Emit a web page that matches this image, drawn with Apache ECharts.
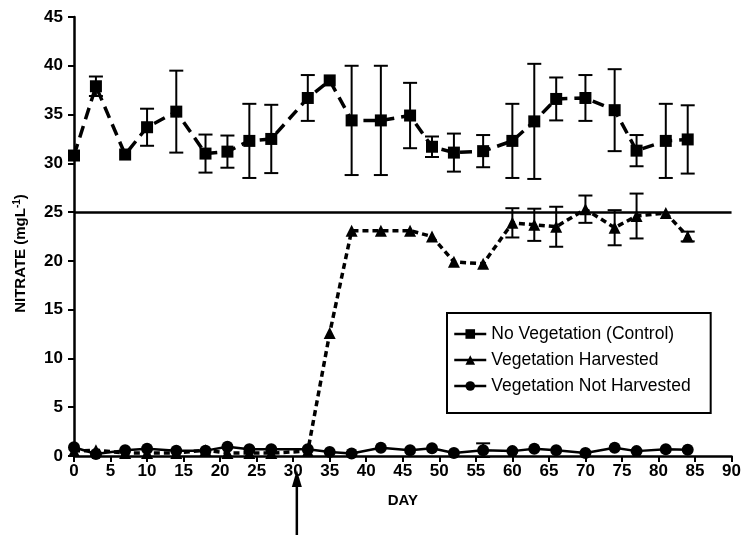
<!DOCTYPE html>
<html>
<head>
<meta charset="utf-8">
<script src="https://cdn.jsdelivr.net/npm/echarts@6/dist/echarts.min.js"></script>
<style>html,body{margin:0;padding:0;background:#fff}#c{width:744px;height:535px}</style>
</head>
<body>
<div id="c"></div>
<script>
var days = [0,3,7,10,14,18,21,24,27,32,35,38,42,46,49,52,56,60,63,66,70,74,77,81,84];
var control = [30.8,37.9,30.9,33.7,35.3,31.0,31.2,32.3,32.5,36.7,38.5,34.4,34.4,34.9,31.7,31.1,31.25,32.3,34.3,36.6,36.7,35.45,31.3,32.3,32.45];
var controlErr = [0,1.0,0,1.9,4.2,1.95,1.65,3.8,3.5,2.35,0,5.6,5.6,3.35,1.05,1.95,1.65,3.8,5.9,2.2,2.35,4.2,1.6,3.8,3.5];
var harvested = [0.5,0.6,0.3,0.3,0.3,0.6,0.3,0.3,0.3,0.5,12.6,23.1,23.1,23.1,22.5,19.9,19.7,23.9,23.7,23.5,25.3,23.4,24.6,24.9,22.5];
var harvestedErr = [0,0,0,0,0,0,0,0,0,0,0,0,0,0,0,0,0,1.5,1.65,2.05,1.4,1.8,2.3,0,0.5];
var notHarvested = [0.9,0.2,0.6,0.75,0.55,0.55,0.95,0.7,0.7,0.7,0.4,0.25,0.85,0.6,0.8,0.3,0.6,0.5,0.75,0.6,0.3,0.85,0.5,0.7,0.65];
var notHarvestedErr = [0,0,0,0,0,0,0,0,0,0,0,0,0,0,0,0,0.7,0,0,0,0,0,0,0,0];
var names = ['No Vegetation (Control)','Vegetation Harvested','Vegetation Not Harvested'];
var threshold = 25;
var arrowDay = 30.5;

function pairs(v){ return days.map(function(d,i){return [d, v[i]];}); }
function triples(v,e){ return days.map(function(d,i){return [d, v[i], e[i]];}); }

function errRender(params, api){
  var err = api.value(2);
  if (!err) return null;
  var x = api.value(0), y = api.value(1);
  var top = api.coord([x, y + err]);
  var bot = api.coord([x, y - err]);
  var w = 7;
  var st = {stroke:'#000', lineWidth:2};
  return {type:'group', children:[
    {type:'line', shape:{x1:top[0],y1:top[1],x2:bot[0],y2:bot[1]}, style:st},
    {type:'line', shape:{x1:top[0]-w,y1:top[1],x2:top[0]+w,y2:top[1]}, style:st},
    {type:'line', shape:{x1:bot[0]-w,y1:bot[1],x2:bot[0]+w,y2:bot[1]}, style:st}
  ]};
}

var chart = echarts.init(document.getElementById('c'));
var font = 'Liberation Sans, Arial, sans-serif';
chart.setOption({
  animation:false,
  backgroundColor:'#fff',
  grid:{left:74, right:12, top:17, bottom:79},
  legend:{
    data:names, orient:'vertical', left:447, top:313,
    padding:[12,20,18,6], itemGap:8, itemWidth:32, itemHeight:12,
    borderColor:'#000', borderWidth:2, borderRadius:0, backgroundColor:'#fff',
    textStyle:{color:'#000', fontFamily:font, fontSize:17.5},
    lineStyle:{type:'solid', width:2.5}
  },
  xAxis:{
    type:'value', min:0, max:90, interval:5,
    name:'DAY', nameLocation:'middle', nameGap:37,
    nameTextStyle:{color:'#000', fontFamily:font, fontWeight:'bold', fontSize:15},
    axisLine:{onZero:false, lineStyle:{color:'#000', width:2.5}},
    axisTick:{length:6, lineStyle:{color:'#000', width:2}},
    axisLabel:{color:'#000', fontFamily:font, fontWeight:'bold', fontSize:17, margin:7},
    splitLine:{show:false}
  },
  yAxis:{
    type:'value', min:0, max:45, interval:5,
    name:'{a|NITRATE (mgL}{s|-1}{a|)}', nameLocation:'middle', nameGap:44,
    nameTextStyle:{padding:[0,34,0,0], rich:{
      a:{color:'#000', fontFamily:font, fontWeight:'bold', fontSize:15},
      s:{color:'#000', fontFamily:font, fontWeight:'bold', fontSize:10, verticalAlign:'top', padding:[0,0,8,0]}
    }},
    axisLine:{show:true, lineStyle:{color:'#000', width:2.5}},
    axisTick:{show:true, length:6, lineStyle:{color:'#000', width:2}},
    axisLabel:{color:'#000', fontFamily:font, fontWeight:'bold', fontSize:17, margin:11},
    splitLine:{show:false}
  },
  series:[
    {type:'custom', name:'errC', renderItem:errRender, data:triples(control,controlErr), z:3, clip:false},
    {type:'custom', name:'errH', renderItem:errRender, data:triples(harvested,harvestedErr), z:3, clip:false},
    {type:'custom', name:'errN', renderItem:errRender, data:triples(notHarvested,notHarvestedErr), z:3, clip:false},
    {type:'line', name:names[0], data:pairs(control), symbol:'rect', symbolSize:12, clip:false,
     lineStyle:{color:'#000', width:3.5, type:[12,7]}, itemStyle:{color:'#000'}, z:5,
     markLine:{silent:true, symbol:['none','none'], label:{show:false},
       lineStyle:{color:'#000', width:2.5, type:'solid'}, data:[{yAxis:threshold}]}},
    {type:'line', name:names[1], data:pairs(harvested), symbol:'triangle', symbolSize:12, clip:false,
     lineStyle:{color:'#000', width:3.5, type:[6,4]}, itemStyle:{color:'#000'}, z:5},
    {type:'line', name:names[2], data:pairs(notHarvested), symbol:'circle', symbolSize:12, clip:false,
     lineStyle:{color:'#000', width:2.5, type:'solid'}, itemStyle:{color:'#000'}, z:5}
  ]
});
var ax = chart.convertToPixel({xAxisIndex:0}, arrowDay);
chart.setOption({graphic:[
  {type:'line', shape:{x1:ax, y1:484, x2:ax, y2:535}, style:{stroke:'#000', lineWidth:2.5}},
  {type:'polygon', shape:{points:[[ax,470],[ax-5,487],[ax+5,487]]}, style:{fill:'#000'}}
]});
</script>
</body>
</html>
